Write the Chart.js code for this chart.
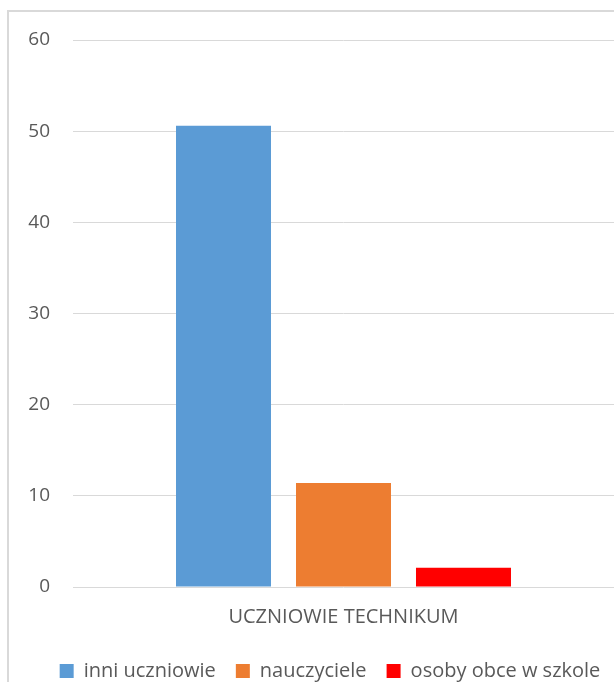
<!DOCTYPE html>
<html>
<head>
<meta charset="utf-8">
<script src="https://cdn.jsdelivr.net/npm/chart.js@4.4.0/dist/chart.umd.min.js"></script>
<style>
  html, body { margin: 0; padding: 0; background: #ffffff; overflow: hidden; }
  #wrap { position: relative; width: 614px; height: 682px; }
  #frame { position: absolute; left: 7px; top: 10px; width: 700px; height: 700px;
           border-left: 2px solid #d9d9d9; border-top: 2px solid #d9d9d9; box-sizing: border-box; }
  canvas { position: absolute; left: 0; top: 0; }
</style>
</head>
<body>
<div id="wrap">
  <div id="frame"></div>
  <canvas id="c" width="614" height="682"></canvas>
</div>
<script>
const categories = ["UCZNIOWIE TECHNIKUM"];
const seriesNames = ["inni uczniowie", "nauczyciele", "osoby obce w szkole"];
const seriesValues = [[50.6], [11.4], [2.1]];
const seriesColors = ["#5B9BD5", "#ED7D31", "#FF0000"];
const yTicks = [0, 10, 20, 30, 40, 50, 60];

const FONT = "'Open Sans', sans-serif";
const TXT = "#595959";

const legendShift = {
  id: 'legendShift',
  afterLayout(chart) {
    const lg = chart.legend;
    if (lg) { lg.left += 23; lg.right += 23; lg.top += 9; lg.bottom += 9; }
  }
};

new Chart(document.getElementById('c'), {
  type: 'bar',
  data: {
    labels: categories,
    datasets: seriesNames.map((n, i) => ({
      label: n,
      data: seriesValues[i],
      backgroundColor: seriesColors[i],
      borderWidth: 0,
      categoryPercentage: 0.6654,
      barPercentage: 0.7917
    }))
  },
  options: {
    responsive: false,
    animation: false,
    devicePixelRatio: 1,
    layout: { padding: { top: 40, left: 0, right: 0, bottom: 0 } },
    plugins: {
      tooltip: { enabled: false },
      legend: {
        position: 'bottom',
        labels: {
          boxWidth: 14, boxHeight: 14, padding: 20,
          color: TXT,
          font: { family: FONT, size: 20 }
        }
      }
    },
    scales: {
      x: {
        grid: { display: false, drawTicks: false },
        border: { display: false },
        ticks: { color: TXT, font: { family: FONT, size: 20 }, padding: 18 },
        afterFit(s) { s.height = 45; }
      },
      y: {
        min: 0, max: 60,
        afterBuildTicks(s) { s.ticks = yTicks.map(v => ({ value: v })); },
        grid: { color: '#d9d9d9', lineWidth: 1, drawTicks: false },
        border: { display: false },
        ticks: { color: TXT, font: { family: FONT, size: 19 }, padding: 23 },
        afterFit(s) { s.width = 73; }
      }
    }
  },
  plugins: [legendShift]
});
</script>
</body>
</html>
